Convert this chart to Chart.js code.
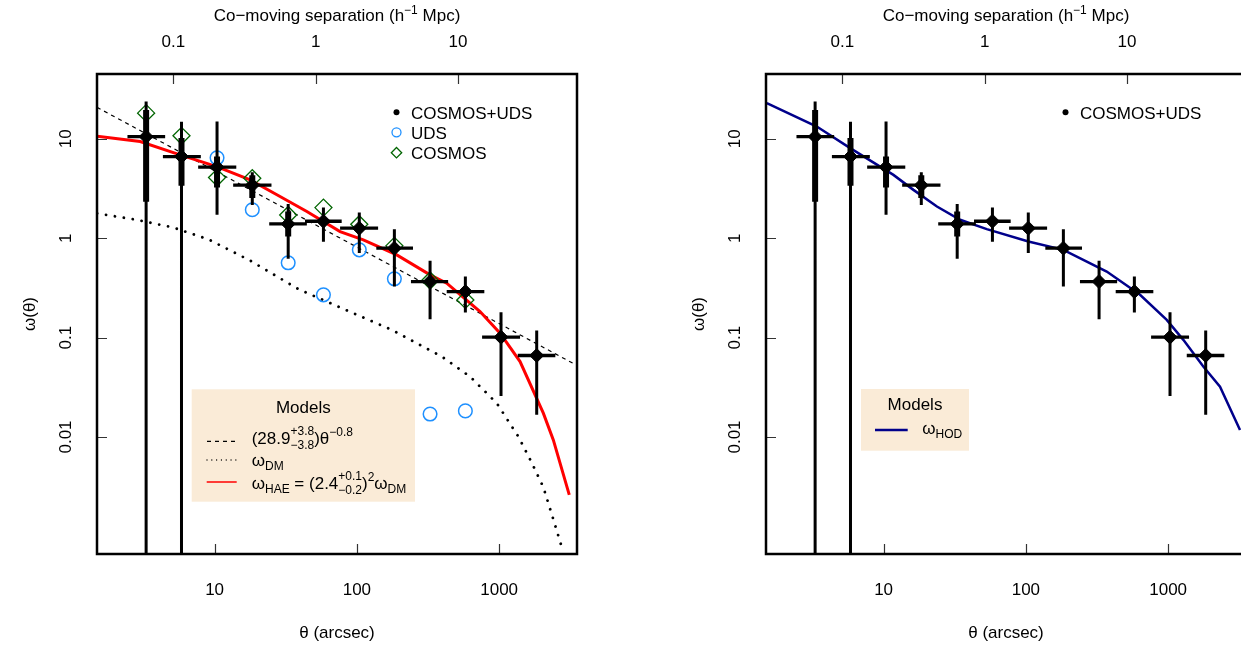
<!DOCTYPE html>
<html>
<head>
<meta charset="utf-8">
<script src="https://cdn.jsdelivr.net/npm/chart.js@4/dist/chart.umd.min.js"></script>
<style>
  html, body { margin: 0; padding: 0; overflow: hidden; background: #fff; }
  body { width: 1241px; height: 646px; position: relative; }
  .panel { position: absolute; top: 0; width: 669px; height: 646px; }
</style>
</head>
<body>
<div class="panel" style="left:0"><canvas id="leftChart" width="669" height="646"></canvas></div>
<div class="panel" style="left:669px"><canvas id="rightChart" width="669" height="646"></canvas></div>
<script>
// angular bins (arcsec) and combined COSMOS+UDS measurement
const binTheta = [3.30, 5.85, 10.4, 18.4, 32.9, 58.2, 104, 183.5, 327, 579, 1031, 1837];
const binThetaLo = [2.44, 4.33, 7.66, 13.5, 24.2, 43.2, 76.2, 137, 240, 428, 759, 1352];
const binThetaHi = [4.49, 8.0, 14.2, 25.1, 44.5, 78.2, 141, 248, 438, 787, 1403, 2484];
const omegaAll = [10.5, 6.62, 5.18, 3.41, 1.39, 1.48, 1.26, 0.793, 0.366, 0.290, 0.101, 0.066];
const omegaAllLo = [0.0001, 0.0001, 1.72, 2.16, 0.62, 0.92, 0.71, 0.326, 0.153, 0.179, 0.0259, 0.0167];
const omegaAllHi = [23.7, 14.8, 14.9, 4.61, 2.20, 2.03, 1.81, 1.23, 0.591, 0.411, 0.180, 0.1176];
// inner (thick) error bars, first five bins
const thickTheta = [3.30, 5.85, 10.4, 18.4, 32.9];
const thickLo = [2.33, 3.36, 3.23, 2.54, 1.04];
const thickHi = [19.5, 10.2, 6.62, 4.3, 1.85];

const udsTheta = [10.4, 18.4, 32.9, 58.2, 104, 183.5, 327, 579];
const udsOmega = [6.43, 1.93, 0.565, 0.269, 0.763, 0.390, 0.0170, 0.0183];
const cosmosTheta = [3.30, 5.85, 10.4, 18.4, 32.9, 58.2, 104, 183.5, 327, 579];
const cosmosOmega = [18.1, 10.7, 4.07, 4.01, 1.71, 2.03, 1.38, 0.837, 0.375, 0.239];

// model curves
const powerTheta = [1.49, 3289];
const powerOmega = [20.7, 0.0553];
const dmTheta = [1.494, 2.84, 5.13, 9.04, 17.77, 38.8, 78.3, 176, 395, 624, 962, 1364, 1684, 2045, 2443, 2780];
const dmOmega = [1.776, 1.527, 1.278, 0.973, 0.595, 0.307, 0.1977, 0.1195, 0.0644, 0.0405, 0.0219, 0.0101, 0.00562, 0.00313, 0.001377, 0.000748];
const haeTheta = [1.494, 2.996, 5.72, 10.36, 17.77, 27.4, 44.5, 76.2, 111, 190.7, 327, 428, 734, 1015, 1403, 2045, 2404, 3113];
const haeOmega = [10.57, 9.37, 6.89, 5.25, 3.86, 2.73, 1.852, 1.165, 0.961, 0.679, 0.4275, 0.3526, 0.1827, 0.1107, 0.0574, 0.01736, 0.00935, 0.002616];
const hodTheta = [1.51, 3.39, 5.82, 11.72, 16.2, 23.7, 34.5, 53.1, 104.1, 183.5, 370, 634.6, 977.7, 1279, 1767, 2316, 3201];
const hodOmega = [22.8, 13.27, 8.04, 4.33, 3.06, 2.08, 1.53, 1.232, 0.924, 0.763, 0.461, 0.269, 0.1507, 0.0948, 0.0511, 0.0321, 0.01178];

// axes
const thetaRange = [1.49, 3527];
const omegaRange = [0.000665, 44.8];
const arcsecPerMpc = 51.3;
const thetaTicks = [10, 100, 1000];
const thetaTickLabels = ["10", "100", "1000"];
const sepTicks = [0.1, 1, 10];
const sepTickLabels = ["0.1", "1", "10"];
const omegaTicks = [0.01, 0.1, 1, 10];
const omegaTickLabels = ["0.01", "0.1", "1", "10"];

const FONT = "'Liberation Sans', Arial, Helvetica, sans-serif";
const BASE_FONT = "17px " + FONT;
const SMALL_FONT = "12px " + FONT;

Chart.defaults.font.family = FONT;
Chart.defaults.font.size = 17;
Chart.defaults.color = "#000";

function toPoints(xs, ys) {
  return xs.map((x, i) => ({ x: x, y: ys[i] }));
}

function verticalSegments(xs, lo, hi) {
  const out = [];
  xs.forEach((x, i) => {
    out.push({ x: x, y: lo[i] }, { x: x, y: hi[i] }, { x: x, y: null });
  });
  return out;
}

function horizontalSegments(lo, hi, ys) {
  const out = [];
  ys.forEach((y, i) => {
    out.push({ x: lo[i], y: y }, { x: hi[i], y: y }, { x: hi[i], y: null });
  });
  return out;
}

function lineSet(data, color, width, dash, order, extra) {
  return Object.assign({
    data: data,
    showLine: true,
    borderColor: color,
    backgroundColor: color,
    borderWidth: width,
    borderDash: dash,
    borderCapStyle: "butt",
    pointRadius: 0,
    pointHoverRadius: 0,
    tension: 0,
    spanGaps: false,
    fill: false,
    clip: 0,
    order: order,
  }, extra || {});
}

function measurementSets() {
  return [
    lineSet(verticalSegments(binTheta, omegaAllLo, omegaAllHi), "#000", 3, [], 3),
    lineSet(verticalSegments(thickTheta, thickLo, thickHi), "#000", 6, [], 2),
    lineSet(horizontalSegments(binThetaLo, binThetaHi, omegaAll), "#000", 3.3, [], 2),
    {
      data: toPoints(binTheta, omegaAll),
      showLine: false,
      pointStyle: "rectRot",
      pointRadius: 7,
      pointHoverRadius: 7,
      backgroundColor: "#000",
      borderColor: "#000",
      borderWidth: 1,
      order: 0,
    },
  ];
}

function logScale(range, ticks, labels, position, extra) {
  return Object.assign({
    type: "logarithmic",
    position: position,
    min: range[0],
    max: range[1],
    grid: { display: false, drawTicks: false },
    border: { display: false },
    afterBuildTicks: (scale) => {
      scale.ticks = ticks.map((v) => ({ value: v }));
    },
  }, extra);
}

function tickOptions(labels, padding, display) {
  return {
    display: display,
    autoSkip: false,
    maxRotation: 0,
    padding: padding,
    font: { size: 17 },
    callback: (value, index) => labels[index],
  };
}

function drawRich(ctx, x, baseline, parts, align) {
  const pieces = [];
  let total = 0;
  parts.forEach((p) => {
    if (typeof p === "string") {
      ctx.font = BASE_FONT;
      const w = ctx.measureText(p).width;
      pieces.push({ p: p, w: w });
      total += w;
    } else {
      ctx.font = SMALL_FONT;
      const w = Math.max(p.sup ? ctx.measureText(p.sup).width : 0, p.sub ? ctx.measureText(p.sub).width : 0);
      pieces.push({ p: p, w: w });
      total += w;
    }
  });
  let cx = align === "center" ? x - total / 2 : x;
  ctx.textAlign = "left";
  ctx.textBaseline = "alphabetic";
  pieces.forEach((item) => {
    const p = item.p;
    if (typeof p === "string") {
      ctx.font = BASE_FONT;
      ctx.fillText(p, cx, baseline);
    } else {
      ctx.font = SMALL_FONT;
      if (p.sup) ctx.fillText(p.sup, cx, baseline - (p.sub ? 8.5 : 7.5));
      if (p.sub) ctx.fillText(p.sub, cx, baseline + (p.sup ? 5 : 4));
    }
    cx += item.w;
  });
}

function drawSymbolLegend(ctx, entries) {
  entries.forEach((e) => {
    ctx.save();
    ctx.lineWidth = 1.3;
    ctx.strokeStyle = e.color;
    ctx.fillStyle = e.color;
    ctx.beginPath();
    if (e.shape === "dot") {
      ctx.arc(396.5, e.y, 3, 0, Math.PI * 2);
      ctx.fill();
    } else if (e.shape === "circle") {
      ctx.arc(396.5, e.y, 4.5, 0, Math.PI * 2);
      ctx.stroke();
    } else {
      ctx.moveTo(396.5, e.y - 5.2);
      ctx.lineTo(401.7, e.y);
      ctx.lineTo(396.5, e.y + 5.2);
      ctx.lineTo(391.3, e.y);
      ctx.closePath();
      ctx.stroke();
    }
    ctx.restore();
    ctx.fillStyle = "#000";
    ctx.font = BASE_FONT;
    ctx.textAlign = "left";
    ctx.textBaseline = "alphabetic";
    ctx.fillText(e.label, 411, e.y + 6.2);
  });
}

function sampleLine(ctx, x1, x2, y, color, width, dash, cap) {
  ctx.save();
  ctx.strokeStyle = color;
  ctx.lineWidth = width;
  ctx.setLineDash(dash);
  ctx.lineCap = cap || "butt";
  ctx.beginPath();
  ctx.moveTo(x1, y);
  ctx.lineTo(x2, y);
  ctx.stroke();
  ctx.restore();
}

function makeDecor(drawLegends) {
  return {
    id: "panelDecor",
    afterDraw(chart) {
      const ctx = chart.ctx;
      const area = chart.chartArea;
      ctx.save();
      ctx.fillStyle = "#000";

      // inward tick marks
      ctx.strokeStyle = "#333";
      ctx.lineWidth = 1.2;
      ctx.beginPath();
      chart.scales.x.ticks.forEach((t) => {
        const px = Math.round(chart.scales.x.getPixelForValue(t.value)) + 0.5;
        ctx.moveTo(px, area.bottom);
        ctx.lineTo(px, area.bottom - 10);
      });
      chart.scales.xTop.ticks.forEach((t) => {
        const px = Math.round(chart.scales.xTop.getPixelForValue(t.value)) + 0.5;
        ctx.moveTo(px, area.top);
        ctx.lineTo(px, area.top + 10);
      });
      chart.scales.y.ticks.forEach((t) => {
        const py = Math.round(chart.scales.y.getPixelForValue(t.value)) + 0.5;
        ctx.moveTo(area.left, py);
        ctx.lineTo(area.left + 10, py);
      });
      ctx.stroke();

      // box
      ctx.strokeStyle = "#000";
      ctx.lineWidth = 2.5;
      ctx.strokeRect(area.left, area.top, area.right - area.left, area.bottom - area.top);

      // rotated y tick labels
      ctx.font = BASE_FONT;
      ctx.textAlign = "center";
      ctx.textBaseline = "middle";
      chart.scales.y.ticks.forEach((t, i) => {
        const py = chart.scales.y.getPixelForValue(t.value);
        ctx.save();
        ctx.translate(66, py);
        ctx.rotate(-Math.PI / 2);
        ctx.fillText(omegaTickLabels[i], 0, 0);
        ctx.restore();
      });

      // top axis title
      drawRich(ctx, (area.left + area.right) / 2, 21,
        ["Co\u2212moving separation (h", { sup: "\u22121" }, " Mpc)"], "center");

      drawLegends(ctx);
      ctx.restore();
    },
  };
}

function makeChart(canvasId, datasets, drawLegends) {
  return new Chart(document.getElementById(canvasId), {
    type: "scatter",
    data: { datasets: datasets },
    options: {
      responsive: false,
      animation: false,
      events: [],
      layout: { padding: { left: 0, right: 92, top: 0, bottom: 0 } },
      plugins: { legend: { display: false }, tooltip: { enabled: false } },
      scales: {
        x: logScale(thetaRange, thetaTicks, thetaTickLabels, "bottom", {
          afterFit: (scale) => { scale.height = 92; },
          ticks: tickOptions(thetaTickLabels, 26, true),
          title: { display: true, text: "\u03b8 (arcsec)", font: { size: 17 }, padding: { top: 0, bottom: 2 } },
        }),
        xTop: logScale([thetaRange[0] / arcsecPerMpc, thetaRange[1] / arcsecPerMpc], sepTicks, sepTickLabels, "top", {
          afterFit: (scale) => { scale.height = 74; },
          ticks: tickOptions(sepTickLabels, 21, true),
        }),
        y: logScale(omegaRange, omegaTicks, omegaTickLabels, "left", {
          afterFit: (scale) => { scale.width = 97; },
          ticks: tickOptions(omegaTickLabels, 0, false),
          title: { display: true, text: "\u03c9(\u03b8)", font: { size: 17 }, padding: { top: 20, bottom: 0 } },
        }),
      },
    },
    plugins: [makeDecor(drawLegends)],
  });
}

const leftSets = [
  lineSet(toPoints(dmTheta, dmOmega), "#000", 2.8, [0.01, 9], 8, { borderCapStyle: "round" }),
  lineSet(toPoints(powerTheta, powerOmega), "#000", 1.2, [4, 4], 7),
  lineSet(toPoints(haeTheta, haeOmega), "#ff0000", 3, [], 6),
  {
    data: toPoints(udsTheta, udsOmega),
    showLine: false,
    pointStyle: "circle",
    pointRadius: 6.8,
    pointHoverRadius: 6.8,
    backgroundColor: "rgba(0,0,0,0)",
    borderColor: "#1e90ff",
    borderWidth: 1.5,
    order: 5,
  },
  {
    data: toPoints(cosmosTheta, cosmosOmega),
    showLine: false,
    pointStyle: "rectRot",
    pointRadius: 8.5,
    pointHoverRadius: 8.5,
    backgroundColor: "rgba(0,0,0,0)",
    borderColor: "#006400",
    borderWidth: 1.3,
    order: 4,
  },
].concat(measurementSets());

const rightSets = [
  lineSet(toPoints(hodTheta, hodOmega), "#00008b", 2.5, [], 6),
].concat(measurementSets());

makeChart("leftChart", leftSets, (ctx) => {
  drawSymbolLegend(ctx, [
    { shape: "dot", color: "#000", y: 112.3, label: "COSMOS+UDS" },
    { shape: "circle", color: "#1e90ff", y: 132.3, label: "UDS" },
    { shape: "diamond", color: "#006400", y: 152.7, label: "COSMOS" },
  ]);
  ctx.fillStyle = "#faebd7";
  ctx.fillRect(191.7, 389.3, 223.3, 112.4);
  ctx.fillStyle = "#000";
  drawRich(ctx, 303.3, 413.3, ["Models"], "center");
  sampleLine(ctx, 207, 235, 441.3, "#000", 1.2, [4, 4]);
  drawRich(ctx, 251.7, 443.5, ["(28.9", { sup: "+3.8", sub: "\u22123.8" }, ")\u03b8", { sup: "\u22120.8" }]);
  sampleLine(ctx, 207, 236, 460, "#000", 1.3, [0.01, 4.8], "round");
  drawRich(ctx, 251.7, 465.5, ["\u03c9", { sub: "DM" }]);
  sampleLine(ctx, 206.7, 236.7, 482, "#ff0000", 1.5, []);
  drawRich(ctx, 251.7, 488.5, ["\u03c9", { sub: "HAE" }, " = (2.4", { sup: "+0.1", sub: "\u22120.2" }, ")", { sup: "2" }, "\u03c9", { sub: "DM" }]);
});

makeChart("rightChart", rightSets, (ctx) => {
  drawSymbolLegend(ctx, [
    { shape: "dot", color: "#000", y: 112.3, label: "COSMOS+UDS" },
  ]);
  ctx.fillStyle = "#faebd7";
  ctx.fillRect(192, 389, 108, 61.7);
  ctx.fillStyle = "#000";
  drawRich(ctx, 246, 410, ["Models"], "center");
  sampleLine(ctx, 206, 238.7, 430, "#00008b", 2.5, []);
  drawRich(ctx, 253.3, 433.5, ["\u03c9", { sub: "HOD" }]);
});
</script>
</body>
</html>
